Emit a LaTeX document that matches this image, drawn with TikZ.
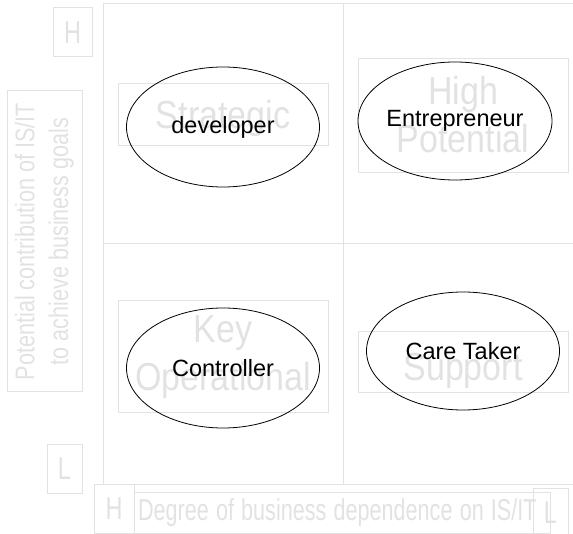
\documentclass[tikz,border=0pt]{standalone}
\usepackage{graphicx}
\usepackage{fontspec}
\setmainfont{Liberation Sans}
\usepackage{xcolor}
\usetikzlibrary{shapes.geometric}
\definecolor{faint}{RGB}{226,226,226}
\newcommand{\stretched}[2]{\scalebox{1}[#1]{#2}}

\begin{document}
\begin{tikzpicture}
    \def\dx{1pt}
    \def\dy{-1pt}

    \tikzstyle{frame}=[draw=faint, line width=1pt]
    \tikzstyle{faintbox}=[draw=faint, line width=1pt, text=faint, inner sep=0pt]
    \tikzstyle{quad}=[faintbox, minimum width=210pt, font=\fontsize{34}{41}\selectfont]
    \tikzstyle{axis}=[faintbox, minimum height=49pt, font=\fontsize{21.6}{27}\selectfont]
    \tikzstyle{letter}=[axis, font=\fontsize{23.5}{27}\selectfont]
    \tikzstyle{role}=[ellipse, draw=black, line width=0.8pt, inner sep=0pt, minimum width=193pt, minimum height=120pt, font=\fontsize{23.5}{27}\selectfont]

    \useasboundingbox (0,0) rectangle (573*\dx,534*\dy);

    \draw [frame] (573*\dx,4*\dy) -- (103*\dx,4*\dy) -- (103*\dx,484*\dy) -- (573*\dx,484*\dy);
    \draw [frame] (343*\dx,4*\dy) -- (343*\dx,484*\dy);
    \draw [frame] (103*\dx,244*\dy) -- (573*\dx,244*\dy);

    \node[quad, minimum height=62pt]  (strategic) at (223*\dx,115*\dy) {\raisebox{-3pt}[\height][\depth]{\stretched{1.15}{Strategic}}};
    \node[quad, minimum height=114pt] (highpot) at (463*\dx,116*\dy) {\raisebox{-3pt}[\height][\depth]{\stretched{1.15}{\begin{tabular}{@{}c@{}}High\\Potential\end{tabular}}}};
    \node[quad, minimum height=112pt] (keyop) at (223*\dx,357*\dy) {\stretched{1.15}{\begin{tabular}{@{}c@{}}Key\\Operational\end{tabular}}};
    \node[quad, minimum height=61pt]  (support) at (463*\dx,362*\dy) {\raisebox{-9pt}[\height][\depth]{\stretched{1.15}{Support}}};

    \node[letter, minimum width=39pt] (yhigh) at (72.5*\dx,32.5*\dy) {\stretched{1.35}{H}};
    \node[letter, minimum width=35pt] (ylow) at (64.5*\dx,468.5*\dy) {\stretched{1.35}{L}};
    \node[letter, minimum width=40pt] (xhigh) at (114*\dx,508.5*\dy) {\stretched{1.35}{H}};
    \node[axis, minimum height=41pt, text width=408pt, inner xsep=4pt, align=left] (xlabel) at (342*\dx,512.5*\dy) {\stretched{1.4}{Degree of business dependence on IS/IT}};
    \node[letter, minimum width=35pt] (xlow) at (550.5*\dx,512.5*\dy) {\stretched{1.35}{L}};
    \node[faintbox, rotate=90, minimum width=301pt, minimum height=75pt, font=\fontsize{21.6}{27}\selectfont] (ylabel) at (44.5*\dx,241.5*\dy) {\stretched{1.25}{\begin{tabular}{@{}c@{}}Potential contribution of IS/IT\\to achieve business goals\end{tabular}}};

    \node[role] (developer) at (223*\dx,127*\dy) {developer};
    \node[role, minimum width=194pt, minimum height=118pt] (entrepreneur) at (455*\dx,121*\dy) {Entrepreneur};
    \node[role] (controller) at (223*\dx,368*\dy) {Controller};
    \node[role, minimum height=118pt] (caretaker) at (463*\dx,351*\dy) {Care Taker};

\end{tikzpicture}
\end{document}
